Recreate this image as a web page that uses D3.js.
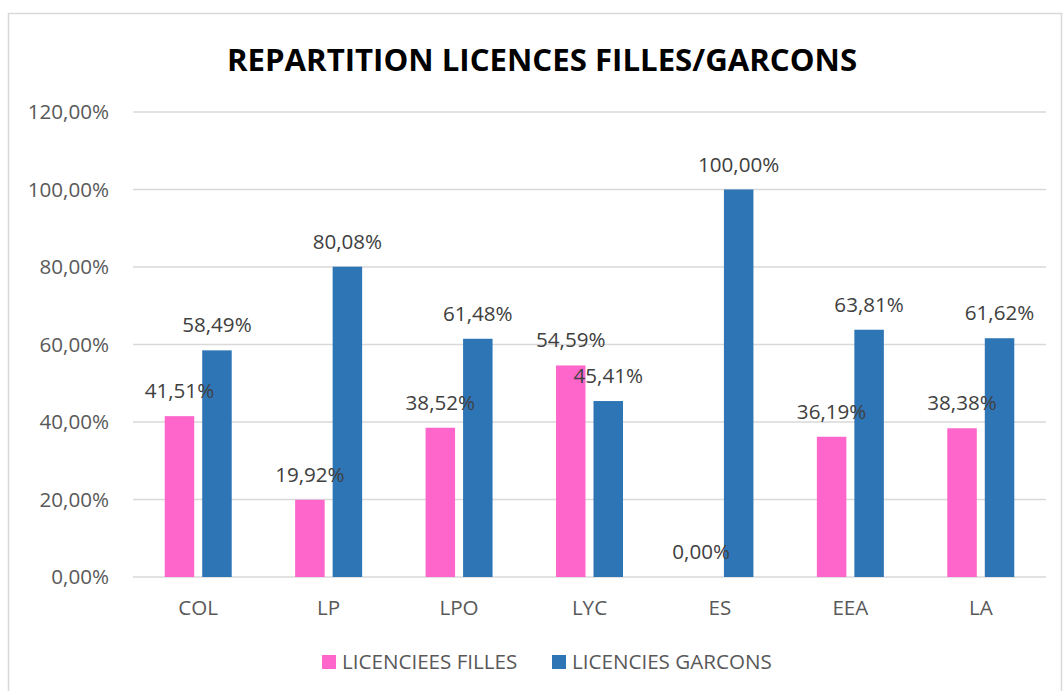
<!DOCTYPE html>
<html>
<head>
<meta charset="utf-8">
<script src="https://cdn.jsdelivr.net/npm/d3@7"></script>
<style>
  body { margin: 0; background: #fff; }
  svg { display: block; font-family: "Open Sans", sans-serif; }
</style>
</head>
<body>
<svg id="chart" width="1063" height="691"></svg>
<script>
// data
var categories = ["COL", "LP", "LPO", "LYC", "ES", "EEA", "LA"];
var filles = [0.4151, 0.1992, 0.3852, 0.5459, 0.0, 0.3619, 0.3838];
var garcons = [0.5849, 0.8008, 0.6148, 0.4541, 1.0, 0.6381, 0.6162];
var yTicks = [0, 0.2, 0.4, 0.6, 0.8, 1.0, 1.2];
var seriesNames = ["LICENCIEES FILLES", "LICENCIES GARCONS"];
var colors = ["#FF66CC", "#2E75B6"];

var svg = d3.select("#chart");
var margin = {left: 133, right: 1046, top: 112, bottom: 577};
var fs = 20.6;

var fmt = function(v) { return d3.format(".2f")(v * 100).replace(".", ",") + "%"; };

// chart frame
svg.append("rect").attr("x", 8.5).attr("y", 13.5).attr("width", 1053).attr("height", 700)
  .attr("fill", "#fff").attr("stroke", "#D9D9D9").attr("stroke-width", 1.5);

svg.append("text").attr("x", 542).attr("y", 71).attr("text-anchor", "middle")
  .attr("font-size", 31.2).attr("font-weight", "bold").attr("fill", "#000")
  .text("REPARTITION LICENCES FILLES/GARCONS");

var x = d3.scaleBand().domain(categories).range([margin.left, margin.right]);
var y = d3.scaleLinear().domain([0, 1.2]).range([margin.bottom, margin.top]);

// gridlines
svg.append("g").selectAll("line").data(yTicks).join("line")
  .attr("x1", margin.left).attr("x2", margin.right)
  .attr("y1", function(d) { return y(d); }).attr("y2", function(d) { return y(d); })
  .attr("stroke", "#D9D9D9").attr("stroke-width", 1.5);

// y labels
svg.append("g").selectAll("text").data(yTicks).join("text")
  .attr("x", 109).attr("y", function(d) { return y(d); }).attr("dy", "0.36em")
  .attr("text-anchor", "end").attr("font-size", fs).attr("fill", "#595959")
  .text(fmt);

// x labels
svg.append("g").selectAll("text").data(categories).join("text")
  .attr("x", function(d) { return x(d) + x.bandwidth() / 2; }).attr("y", 615)
  .attr("text-anchor", "middle").attr("font-size", fs).attr("fill", "#595959")
  .text(function(d) { return d; });

var barW = 29.5, gap = 8;
var series = [filles, garcons];
series.forEach(function(vals, s) {
  var off = s == 0 ? -(gap / 2 + barW) : gap / 2;
  var g = svg.append("g");
  g.selectAll("rect").data(vals).join("rect")
    .attr("x", function(d, i) { return x(categories[i]) + x.bandwidth() / 2 + off; })
    .attr("y", function(d) { return y(d); })
    .attr("width", barW)
    .attr("height", function(d) { return y(0) - y(d); })
    .attr("fill", colors[s]);
});
// labels drawn after all bars (they overlap neighbours)
series.forEach(function(vals, s) {
  var off = s == 0 ? -(gap / 2 + barW) : gap / 2;
  svg.append("g").selectAll("text").data(vals).join("text")
    .attr("x", function(d, i) { return x(categories[i]) + x.bandwidth() / 2 + off + barW / 2; })
    .attr("y", function(d) { return y(d) - 18; })
    .attr("text-anchor", "middle").attr("font-size", fs).attr("fill", "#404040")
    .text(fmt);
});

// legend
var legX = [322, 552];
seriesNames.forEach(function(n, s) {
  svg.append("rect").attr("x", legX[s]).attr("y", 655).attr("width", 14).attr("height", 14).attr("fill", colors[s]);
  svg.append("text").attr("x", legX[s] + 20).attr("y", 669).attr("font-size", fs).attr("fill", "#595959").text(n);
});
</script>
</body>
</html>
